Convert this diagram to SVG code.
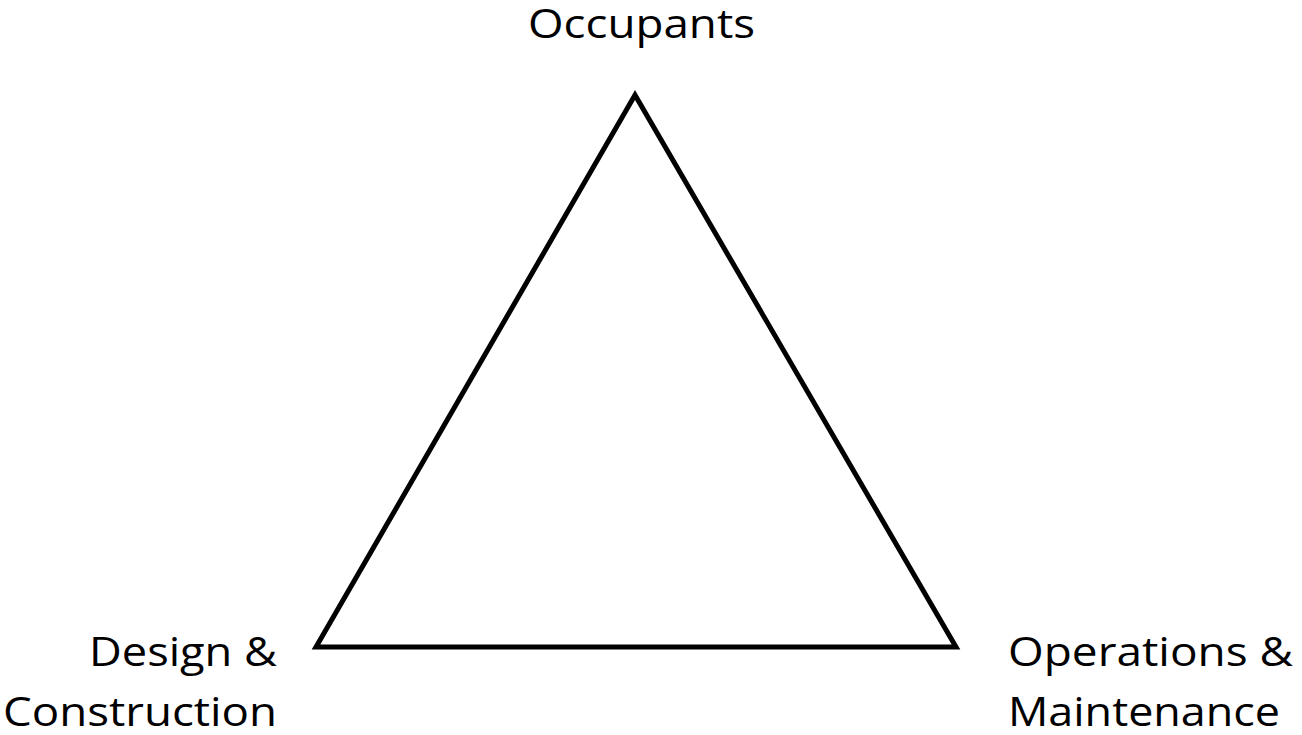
<svg xmlns="http://www.w3.org/2000/svg" width="1302" height="735" viewBox="0 0 1302 735">
<style>
.lbl{font-family:"Open Sans","Liberation Sans",sans-serif;font-size:40px;fill:#000}
.tri{fill:#fff;stroke:#000;stroke-width:5;stroke-linejoin:miter}
</style>
<rect width="1302" height="735" fill="#fff"/>
<g id="connectors">
<polygon class="tri" points="635,95 316,647 956,647"/>
</g>
<g id="node-occupants">
<text class="lbl" x="528" y="38" textLength="227" lengthAdjust="spacingAndGlyphs">Occupants</text>
</g>
<g id="node-design">
<text class="lbl" x="89" y="666" textLength="188" lengthAdjust="spacingAndGlyphs">Design &amp;</text>
<text class="lbl" x="3" y="726" textLength="274" lengthAdjust="spacingAndGlyphs">Construction</text>
</g>
<g id="node-operations">
<text class="lbl" x="1008" y="666" textLength="285" lengthAdjust="spacingAndGlyphs">Operations &amp;</text>
<text class="lbl" x="1008" y="726" textLength="272" lengthAdjust="spacingAndGlyphs">Maintenance</text>
</g>
</svg>
